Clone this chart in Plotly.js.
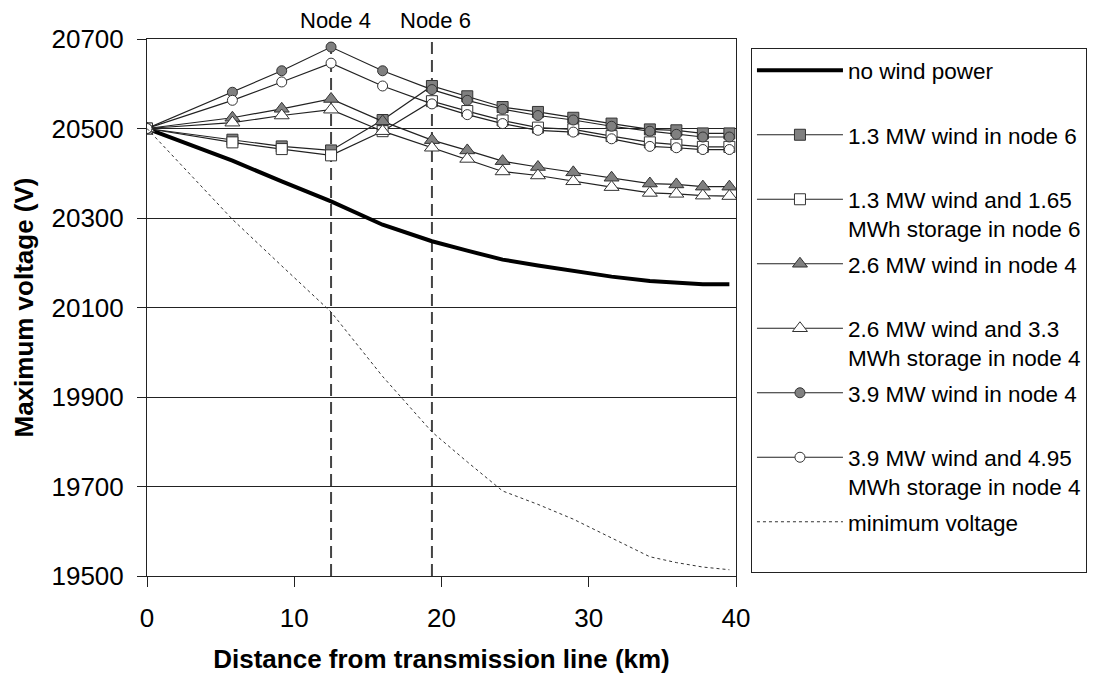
<!DOCTYPE html>
<html>
<head>
<meta charset="utf-8">
<script src="https://cdn.plot.ly/plotly-3.0.1.min.js"></script>
<style>html,body{margin:0;padding:0;background:#fff;}#chart{width:1099px;height:675px;}</style>
</head>
<body>
<div id="chart"></div>
<script>
// Distance from transmission line (km)
const distanceKm = [0, 5.8, 9.15, 12.5, 16.0, 19.35, 21.75, 24.15, 26.55, 28.95, 31.55, 34.15, 35.95, 37.75, 39.55];

// Maximum voltage (V) per scenario
const noWindPower   = [20500, 20428, 20382, 20337, 20285, 20248, 20227, 20207, 20194, 20182, 20169, 20159, 20155, 20152, 20152];
const wind13Node6   = [20500, 20475, 20460, 20451, 20519, 20595, 20572, 20548, 20537, 20524, 20511, 20498, 20496, 20489, 20489];
const wind13Stor6   = [20500, 20469, 20454, 20440, 20494, 20561, 20539, 20518, 20502, 20498, 20483, 20469, 20464, 20459, 20459];
const wind26Node4   = [20500, 20524, 20544, 20566, 20516, 20474, 20451, 20427, 20414, 20402, 20390, 20377, 20375, 20370, 20370];
const wind26Stor4   = [20500, 20513, 20529, 20542, 20494, 20457, 20432, 20404, 20395, 20382, 20369, 20356, 20354, 20350, 20349];
const wind39Node4   = [20500, 20581, 20629, 20682, 20629, 20587, 20563, 20543, 20529, 20519, 20505, 20494, 20487, 20481, 20481];
const wind39Stor4   = [20500, 20563, 20604, 20646, 20595, 20555, 20531, 20511, 20496, 20492, 20477, 20460, 20457, 20453, 20453];
const minimumVolt   = [20500, 20297, 20193, 20090, 19946, 19822, 19755, 19690, 19660, 19627, 19585, 19543, 19530, 19520, 19514];

// Legend labels
const seriesNames = [
  'no wind power',
  '1.3 MW wind in node 6',
  '1.3 MW wind and 1.65<br>MWh storage in node 6',
  '2.6 MW wind in node 4',
  '2.6 MW wind and 3.3<br>MWh storage in node 4',
  '3.9 MW wind in node 4',
  '3.9 MW wind and 4.95<br>MWh storage in node 4',
  'minimum voltage'
];

// Node markers
const nodeX = [12.5, 19.35];
const nodeLabels = ['Node 4', 'Node 6'];

// Axis ticks
const yTicks = [19500, 19700, 19900, 20100, 20300, 20500, 20700];
const xTicks = [0, 10, 20, 30, 40];

const FONT = 'Liberation Sans, Arial, sans-serif';
const two = s => s.indexOf('<br>') >= 0 ? s : s + '<br>\u00a0';

function markerTrace(y, name, symbol, fill, size, idx) {
  return {
    x: distanceKm, y: y, name: two(name), type: 'scatter', mode: 'lines+markers',
    legendgroup: 'g' + idx,
    line: {color: '#222', width: 1.2},
    marker: {symbol: symbol, size: size, color: fill, line: {color: '#333', width: 1}}
  };
}

const traces = [
  {x: distanceKm, y: noWindPower, name: two(seriesNames[0]), type: 'scatter', mode: 'lines',
   legendgroup: 'g0', line: {color: '#000', width: 4}},
  markerTrace(wind13Node6, seriesNames[1], 'square', '#808080', 11, 1),
  markerTrace(wind13Stor6, seriesNames[2], 'square', '#ffffff', 11, 2),
  markerTrace(wind26Node4, seriesNames[3], 'triangle-up', '#808080', 13, 3),
  markerTrace(wind26Stor4, seriesNames[4], 'triangle-up', '#ffffff', 13, 4),
  markerTrace(wind39Node4, seriesNames[5], 'circle', '#808080', 10, 5),
  markerTrace(wind39Stor4, seriesNames[6], 'circle', '#ffffff', 10, 6),
  {x: distanceKm, y: minimumVolt, name: two(seriesNames[7]), type: 'scatter', mode: 'lines',
   legendgroup: 'g7', line: {color: '#333', width: 1, dash: '3px,3px'}}
];

const shapes = nodeX.map(x => ({
  type: 'line', xref: 'x', yref: 'paper', x0: x, x1: x, y0: 0, y1: 1,
  line: {color: '#444', width: 2, dash: '12px,6px'}, layer: 'below'
}));

const annotations = nodeX.map((x, i) => ({
  xref: 'x', yref: 'paper', x: x, y: 1, yanchor: 'bottom', xanchor: 'center',
  text: nodeLabels[i], showarrow: false, xshift: 4, yshift: 4,
  font: {family: FONT, size: 22, color: '#000'}
}));

const layout = {
  width: 1099, height: 675,
  margin: {l: 147, r: 361, t: 39, b: 99, pad: 0},
  paper_bgcolor: '#fff', plot_bgcolor: '#fff',
  font: {family: FONT, color: '#000'},
  showlegend: true,
  legend: {
    x: 1.0254, xanchor: 'left', y: 0.983, yanchor: 'top',
    bordercolor: '#222', borderwidth: 1, bgcolor: '#fff',
    font: {family: FONT, size: 22.5, color: '#000'},
    valign: 'top', itemwidth: 86, tracegroupgap: 3, traceorder: 'grouped'
  },
  xaxis: {
    range: [0, 40], tickvals: xTicks, ticktext: xTicks.map(String),
    showgrid: false, zeroline: false,
    showline: true, linecolor: '#222', linewidth: 1, mirror: true,
    ticks: 'outside', ticklen: 10, tickcolor: '#222', tickwidth: 1,
    tickfont: {family: FONT, size: 26, color: '#000'},
    ticklabelstandoff: 9,
    title: {text: 'Distance from transmission line (km)', standoff: 17,
            font: {family: FONT, size: 26, color: '#000', weight: 'bold'}},
    fixedrange: true
  },
  yaxis: {
    range: [19500, 20700], tickvals: yTicks, ticktext: yTicks.map(String),
    showgrid: true, gridcolor: '#222', gridwidth: 1, zeroline: false,
    showline: true, linecolor: '#222', linewidth: 1, mirror: true,
    ticks: 'outside', ticklen: 9, tickcolor: '#222', tickwidth: 1,
    tickfont: {family: FONT, size: 26, color: '#000'},
    ticklabelstandoff: 8,
    title: {text: 'Maximum voltage (V)', standoff: 10,
            font: {family: FONT, size: 26, color: '#000', weight: 'bold'}},
    fixedrange: true
  },
  shapes: shapes,
  annotations: annotations
};

Plotly.newPlot('chart', traces, layout, {displayModeBar: false, staticPlot: true});
</script>
</body>
</html>
